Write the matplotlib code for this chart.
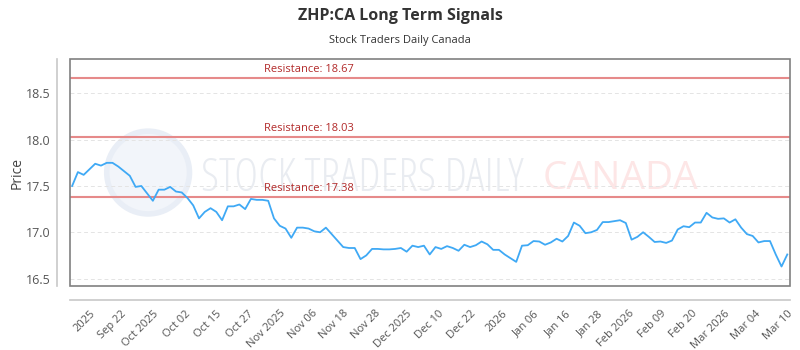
import numpy as np
import matplotlib
matplotlib.use("Agg")
import matplotlib.pyplot as plt
from matplotlib.patches import Rectangle, Ellipse

# Data
prices = [
    17.50, 17.65, 17.62, 17.68, 17.74, 17.72, 17.75, 17.75, 17.71, 17.66,
    17.61, 17.49, 17.50, 17.42, 17.34, 17.46, 17.46, 17.49, 17.44, 17.43,
    17.37, 17.29, 17.15, 17.22, 17.26, 17.22, 17.13, 17.28, 17.28, 17.30,
    17.25, 17.36, 17.35, 17.35, 17.34, 17.15, 17.07, 17.04, 16.94, 17.05,
    17.05, 17.04, 17.01, 17.00, 17.05, 16.98, 16.91, 16.84, 16.83, 16.83,
    16.71, 16.75, 16.82, 16.82, 16.815, 16.815, 16.82, 16.83, 16.79, 16.855,
    16.84, 16.855, 16.76, 16.84, 16.82, 16.85, 16.83, 16.80, 16.865, 16.84,
    16.86, 16.90, 16.87, 16.81, 16.81, 16.76, 16.72, 16.68, 16.855, 16.86,
    16.905, 16.90, 16.865, 16.89, 16.93, 16.90, 16.96, 17.105, 17.07, 16.99,
    17.00, 17.025, 17.11, 17.11, 17.12, 17.13, 17.10, 16.92, 16.95, 17.00,
    16.95, 16.895, 16.90, 16.885, 16.91, 17.03, 17.065, 17.055, 17.105, 17.105,
    17.21, 17.16, 17.145, 17.15, 17.105, 17.14, 17.05, 16.98, 16.96, 16.89,
    16.905, 16.905, 16.76, 16.63, 16.76,
]
resistance = [18.67, 18.03, 17.38]
tick_labels = [
    "2025", "Sep 22", "Oct 2025", "Oct 02", "Oct 15", "Oct 27", "Nov 2025",
    "Nov 06", "Nov 18", "Nov 28", "Dec 2025", "Dec 10", "Dec 22", "2026",
    "Jan 06", "Jan 16", "Jan 28", "Feb 2026", "Feb 09", "Feb 20", "Mar 2026",
    "Mar 04", "Mar 10",
]
yticks = [16.5, 17.0, 17.5, 18.0, 18.5]

plt.rcParams['font.family'] = ['Open Sans', 'DejaVu Sans']

x = np.arange(len(prices))

fig = plt.figure(figsize=(8, 3.5), dpi=100)
ax = fig.add_axes([0.088, 0.183, 0.8995, 0.648])

# Offset axis lines first (set_position resets the ticks)
for side in ['top', 'right']:
    ax.spines[side].set_visible(False)
for side in ['left', 'bottom']:
    ax.spines[side].set_position(('outward', 10))
    ax.spines[side].set_color('#c8c8c8')
    ax.spines[side].set_linewidth(1.2)
ax.add_patch(Rectangle((0, 0), 1, 1, transform=ax.transAxes, fill=False,
                       edgecolor='#808080', lw=1.2, clip_on=False, zorder=5))

# Watermark: faint round logo and the site name
ax.add_patch(Ellipse((0.108, 0.50), 0.115, 0.365, transform=ax.transAxes,
                     facecolor='#f2f5fa', edgecolor='#e9eef6', lw=4,
                     zorder=0))
ax.text(0.406, 0.47, "STOCK TRADERS DAILY", transform=ax.transAxes,
        fontsize=33, color='#e9ecf1', ha='center', va='center',
        fontstretch='condensed', zorder=0)
ax.text(0.765, 0.47, "CANADA", transform=ax.transAxes, fontsize=28,
        color='#fde6e6', ha='center', va='center', zorder=0)

# Price line
ax.plot(x, prices, color='#3fa9f5', lw=1.3, zorder=3)

# Resistance levels
for r in resistance:
    ax.axhline(r, color='#e68a8a', lw=1.5, zorder=2)
    ax.annotate(f"Resistance: {r:.2f}", xy=(33.2, r), xytext=(0, 2),
                textcoords='offset points', color='#b22a2a', fontsize=8,
                va='bottom', ha='left')

ax.set_xlim(-0.3, len(prices) - 0.53)
ax.set_ylim(16.42, 18.87)
ax.set_yticks(yticks)
ax.set_yticklabels([f"{v:.1f}" for v in yticks])
ax.set_xticks(np.linspace(3, len(prices) - 1, len(tick_labels)))
ax.set_xticklabels(tick_labels, rotation=45, ha='right',
                   rotation_mode='anchor')
ax.tick_params(axis='both', length=0, colors='#555555')
ax.tick_params(axis='y', labelsize=9, pad=4)
ax.tick_params(axis='x', labelsize=8, pad=6)
ax.grid(axis='y', color='#e4e4e4', lw=0.7, ls=(0, (4, 3)))
ax.set_ylabel("Price", fontsize=10, color='#444444', labelpad=1)

fig.text(0.5, 0.955, "ZHP:CA Long Term Signals", ha='center', va='center',
         fontsize=11.5, fontweight='bold', color='#333333')
fig.text(0.5, 0.885, "Stock Traders Daily Canada", ha='center', va='center',
         fontsize=8, color='#333333')

fig.savefig("out.png", dpi=100)
